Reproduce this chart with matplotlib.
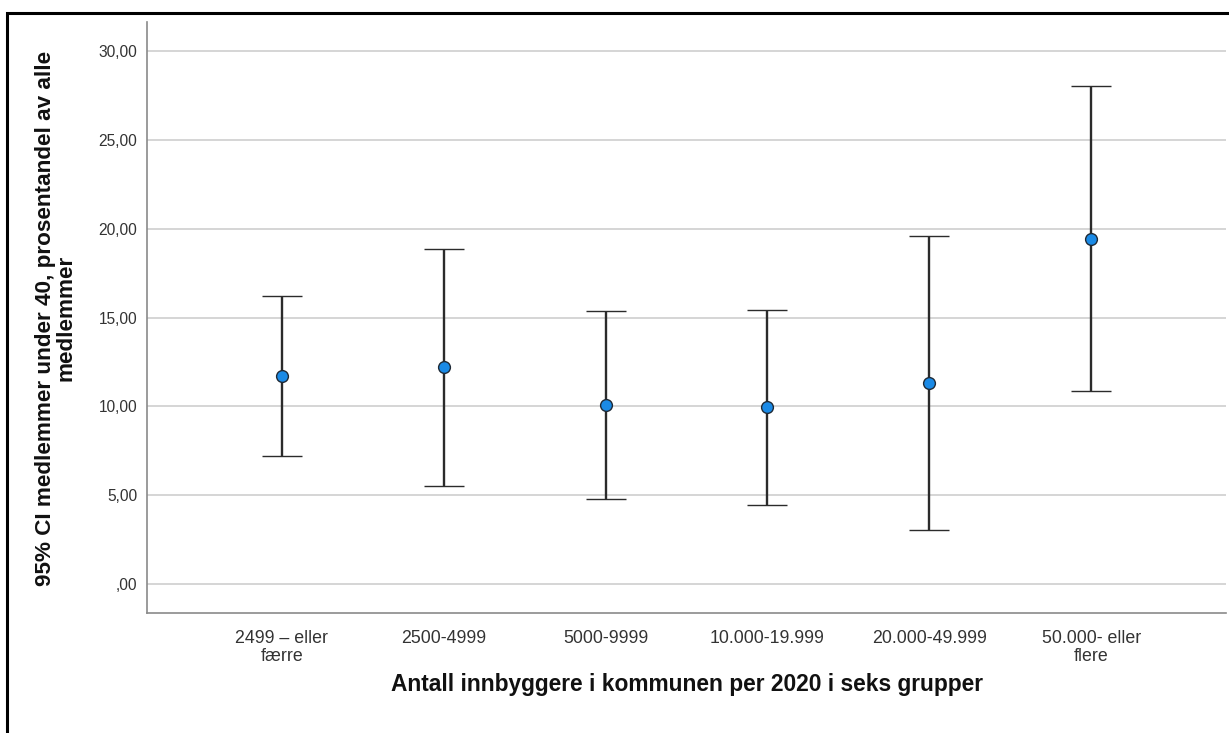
import matplotlib
matplotlib.use("Agg")
import matplotlib.pyplot as plt
from matplotlib.patches import Rectangle

categories = ["2499 \u2013 eller\nf\u00e6rre", "2500-4999", "5000-9999", "10.000-19.999",
              "20.000-49.999", "50.000- eller\nflere"]
means = [11.72, 12.21, 10.10, 9.94, 11.31, 19.44]
ci_lower = [7.23, 5.53, 4.81, 4.44, 3.03, 10.86]
ci_upper = [16.19, 18.87, 15.38, 15.45, 19.61, 28.02]
yticks = [0, 5, 10, 15, 20, 25, 30]
ytick_labels = [",00", "5,00", "10,00", "15,00", "20,00", "25,00", "30,00"]
xlabel = "Antall innbyggere i kommunen per 2020 i seks grupper"
ylabel = "95% CI medlemmer under 40, prosentandel av alle\nmedlemmer"

plt.rcParams['font.family'] = ['Liberation Sans', 'DejaVu Sans']

fig = plt.figure(figsize=(12.29, 7.33), dpi=100)
ax = fig.add_axes([147/1229, 1 - 613/733, (1226-147)/1229, (613-22)/733])

x = list(range(len(categories)))
yerr = [[m - l for m, l in zip(means, ci_lower)], [u - m for m, u in zip(means, ci_upper)]]
ax.errorbar(x, means, yerr=yerr, fmt='o', color='#2b2b2b', ecolor='#2b2b2b',
            elinewidth=1.7, capsize=14.4, capthick=1.9,
            markersize=8.5, markerfacecolor='#1a8ae6', markeredgecolor='#1f2a36',
            markeredgewidth=1.0, zorder=3)

ax.set_xlim(-0.833, 5.833)
ax.set_ylim(-1.63, 31.63)
ax.set_yticks(yticks)
ax.set_yticklabels(ytick_labels)
ax.set_xticks(x)
ax.set_xticklabels(categories, linespacing=1.12)
ax.yaxis.grid(True, color='#d2d2d2', linewidth=1.3, zorder=0)
ax.set_axisbelow(True)
ax.tick_params(axis='y', length=0, pad=7, labelsize=11.2, labelcolor='#333333')
ax.tick_params(axis='x', length=0, pad=12, labelsize=12.8, labelcolor='#333333')
for s in ['top', 'right']:
    ax.spines[s].set_visible(False)
for s in ['left', 'bottom']:
    ax.spines[s].set_color('#8a8a8a')
    ax.spines[s].set_linewidth(1.2)

fig.text(687/1229, 1 - 685/733, xlabel, ha='center', va='center',
         fontsize=16.4, fontweight='bold', color='#111111')
fig.text(56/1229, 1 - 318/733, ylabel, ha='center', va='center', rotation=90,
         fontsize=16.2, fontweight='bold', color='#111111', multialignment='center',
         linespacing=0.98)

fig.patches.append(Rectangle((7/1229, -0.05), 1.1, 1 - 12.5/733 + 0.05,
                             transform=fig.transFigure, fill=False,
                             edgecolor='black', linewidth=2.2, zorder=10))

fig.savefig("out.png", dpi=100)
